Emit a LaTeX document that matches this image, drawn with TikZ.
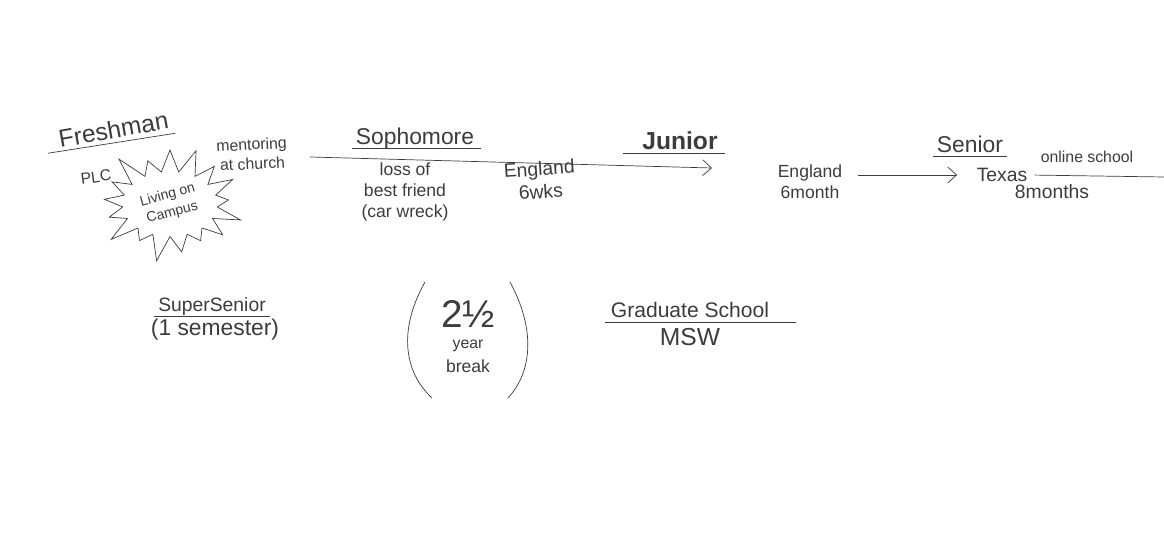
\documentclass[tikz,border=0pt]{standalone}
\usepackage{fontspec}
\setmainfont{Liberation Sans}
\usetikzlibrary{positioning,shapes.symbols,arrows.meta}
\definecolor{pen}{RGB}{60,60,60}
\newcommand{\fs}[1]{\fontsize{#1}{\the\numexpr#1*6/5\relax}\selectfont}

\begin{document}
\begin{tikzpicture}[x = 0.02cm, y = -0.02cm,
  every node/.style = {text = pen, inner sep = 1pt, align = center},
  uline/.style = {draw = pen, thin},
  penarrow/.style = {draw = pen, thin, -{Straight Barb[length = 5pt, width = 9pt]}}]
\useasboundingbox (0,0) rectangle (1164,544);
\node[anchor = base, rotate = 10, font = \fs{14}] (fresh) at (115,138) {Freshman};
\node[rotate = 3, font = \fs{9}] (church) at (252,154) {mentoring\\at church};
\node[rotate = 8, font = \fs{9}] (plc) at (96,177) {PLC};
\node[draw = pen, thin, starburst, starburst points = 17, starburst point height = 0.6cm, minimum width = 3.1cm, minimum height = 2.5cm, inner sep = 0pt, font = \fs{8}] (campus) at (170,204) {\rotatebox{15}{\shortstack{Living on\\Campus}}};
\node[anchor = base, font = \fs{13}] (soph) at (415,145) {Sophomore};
\node[font = \fs{10}] (loss) at (405,192) {loss of\\best friend\\(car wreck)};
\node[rotate = 4, font = \fs{11}] (eng1) at (540,180) {England\\6wks};
\node[anchor = base, font = \bfseries\fs{14}] (junior) at (680,150) {Junior};
\node[font = \fs{10}] (eng2) at (810,182) {England\\6month};
\node[anchor = base, font = \fs{13}] (senior) at (970,153) {Senior};
\node[font = \fs{9}] (online) at (1087,157) {online school};
\node[font = \fs{11}] (texas) at (1002,175) {Texas};
\node[font = \fs{11}] (months) at (1052,192) {8months};
\node[anchor = base, font = \fs{11}] (super) at (212,311) {SuperSenior};
\node[font = \fs{13}] (semester) at (215,330) {(1 semester)};
\node[font = \fs{22}] (half) at (468,314) {2½};
\node[font = \fs{9}] (year) at (468,346) {year};
\node[font = \fs{10}] (brk) at (468,366) {break};
\node[anchor = base, font = \fs{12}] (grad) at (690,317) {Graduate School};
\node[font = \fs{14}] (msw) at (690,337) {MSW};
\coordinate (timeline start) at (310,157);
\coordinate (timeline end) at (712,168);
\coordinate (page edge) at (1164,177);
\draw[uline] ([xshift = -6pt, yshift = -3pt]fresh.base west) -- ([xshift = 2pt, yshift = -3pt]fresh.base east);
\draw[uline] ([xshift = -1pt, yshift = -2pt]soph.base west) -- ([xshift = 3pt, yshift = -2pt]soph.base east);
\draw[uline] ([xshift = -10pt, yshift = -2pt]junior.base west) -- ([xshift = 3pt, yshift = -2pt]junior.base east);
\draw[uline] ([xshift = -1pt, yshift = -2pt]senior.base west) -- ([xshift = 1pt, yshift = -2pt]senior.base east);
\draw[uline] ([xshift = -1pt, yshift = -3pt]super.base west) -- ([xshift = 1pt, yshift = -3pt]super.base east);
\draw[uline] ([xshift = -2pt, yshift = -3pt]grad.base west) -- ([xshift = 14pt, yshift = -3pt]grad.base east);
\draw[penarrow] (timeline start) -- (timeline end);
\draw[penarrow, shorten <= 8pt, shorten >= 10pt] (eng2.north east |- texas) -- (texas.west);
\draw[uline, shorten <= 3pt] (texas.east) -- (page edge);
\draw[draw = pen, thin] (425,282) .. controls (398,330) and (404,372) .. (432,398);
\draw[draw = pen, thin] (510,282) .. controls (536,330) and (532,372) .. (508,398);
\end{tikzpicture}
\end{document}
